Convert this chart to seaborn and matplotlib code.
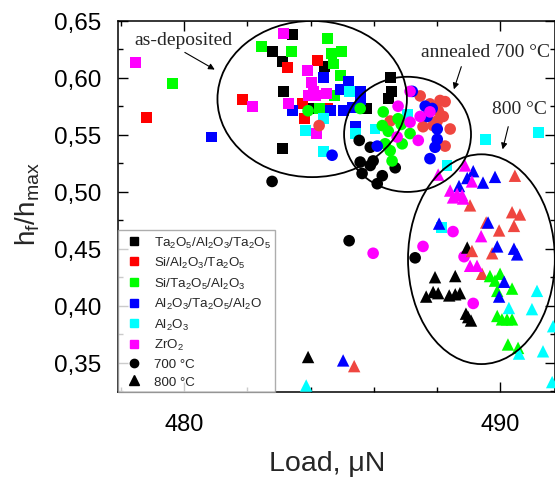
import numpy as np
import pandas as pd
import matplotlib.pyplot as plt
import seaborn as sns
from matplotlib.patches import Ellipse
from matplotlib.lines import Line2D

# materials (legend order)
materials = ['Ta$_2$O$_5$/Al$_2$O$_3$/Ta$_2$O$_5$', 'Si/Al$_2$O$_3$/Ta$_2$O$_5$',
             'Si/Ta$_2$O$_5$/Al$_2$O$_3$', 'Al$_2$O$_3$/Ta$_2$O$_5$/Al$_2$O',
             'Al$_2$O$_3$', 'ZrO$_2$']

# as-deposited (squares)
dep_tat_x = [483.42, 482.78, 483.10, 484.43, 483.13, 483.10, 486.52, 486.55, 486.46, 485.76, 484.08]
dep_tat_y = [0.638, 0.623, 0.614, 0.610, 0.588, 0.538, 0.600, 0.588, 0.582, 0.573, 0.573]
dep_sat_x = [478.80, 481.84, 483.26, 484.21, 483.73, 483.80, 484.53]
dep_sat_y = [0.565, 0.581, 0.609, 0.615, 0.577, 0.564, 0.573]
dep_sta_x = [479.62, 482.44, 483.39, 484.53, 484.65, 484.97, 484.72, 484.94, 484.75, 484.27]
dep_sta_y = [0.595, 0.627, 0.623, 0.634, 0.621, 0.623, 0.612, 0.602, 0.584, 0.573]
dep_ata_x = [480.85, 483.42, 484.40, 485.19, 484.94, 485.03, 485.32, 485.57, 485.57, 484.62, 485.41]
dep_ata_y = [0.548, 0.571, 0.600, 0.597, 0.590, 0.571, 0.574, 0.588, 0.581, 0.571, 0.557]
dep_al_x = [484.40, 483.83, 484.40, 485.22, 485.41, 486.04, 487.06, 488.32, 489.53, 491.23, 488.16]
dep_al_y = [0.564, 0.554, 0.535, 0.588, 0.551, 0.555, 0.568, 0.523, 0.546, 0.552, 0.469]
dep_zr_x = [478.45, 482.15, 483.13, 483.89, 484.02, 483.92, 484.15, 484.49, 483.29, 484.18, 484.08]
dep_zr_y = [0.613, 0.575, 0.639, 0.606, 0.596, 0.584, 0.584, 0.586, 0.577, 0.551, 0.588]

# annealed 700 C (circles)
a700_tat_x = [482.78, 485.54, 485.89, 485.57, 485.89, 485.98, 485.63, 486.27, 486.68, 486.11, 485.22, 487.31]
a700_tat_y = [0.509, 0.545, 0.539, 0.526, 0.523, 0.527, 0.516, 0.514, 0.521, 0.507, 0.457, 0.442]
a700_sat_x = [484.27, 486.52, 487.47, 487.78, 488.10, 488.26, 488.04, 488.20, 488.01, 487.88, 487.56, 488.42, 488.26]
a700_sat_y = [0.558, 0.562, 0.584, 0.577, 0.580, 0.579, 0.571, 0.566, 0.562, 0.558, 0.557, 0.555, 0.540]
a700_sta_x = [483.92, 485.57, 486.30, 486.27, 486.46, 486.36, 486.87, 487.15, 486.90, 486.52, 486.58, 486.77]
a700_sta_y = [0.571, 0.573, 0.570, 0.558, 0.553, 0.542, 0.559, 0.551, 0.542, 0.536, 0.527, 0.564]
a700_ata_x = [484.68, 486.11, 487.22, 487.63, 487.85, 487.69, 488.01, 488.01, 487.94, 487.78]
a700_ata_y = [0.532, 0.540, 0.588, 0.575, 0.573, 0.566, 0.555, 0.546, 0.539, 0.529]
a700_zr_x = [487.15, 486.77, 487.47, 487.15, 487.78, 487.41, 486.74, 485.98, 487.56, 488.51, 488.86, 489.15]
a700_zr_y = [0.588, 0.575, 0.566, 0.561, 0.570, 0.545, 0.548, 0.446, 0.452, 0.465, 0.443, 0.402]

# annealed 800 C (triangles)
a800_tat_x = [487.94, 488.58, 487.66, 487.88, 488.04, 488.39, 488.58, 488.73, 488.92, 488.99, 489.08, 488.96, 483.92]
a800_tat_y = [0.425, 0.426, 0.408, 0.412, 0.411, 0.409, 0.410, 0.411, 0.393, 0.390, 0.387, 0.451, 0.355]
a800_sat_x = [490.47, 489.05, 490.38, 490.63, 490.44, 489.97, 489.11, 489.75, 489.43, 485.38, 489.56]
a800_sat_y = [0.514, 0.488, 0.482, 0.480, 0.470, 0.466, 0.448, 0.446, 0.428, 0.347, 0.473]
a800_sta_x = [489.68, 490.00, 489.84, 489.91, 490.38, 489.91, 490.06, 490.22, 490.38, 490.25, 490.57]
a800_sta_y = [0.426, 0.428, 0.422, 0.413, 0.415, 0.391, 0.388, 0.388, 0.388, 0.366, 0.363]
a800_ata_x = [489.15, 488.96, 488.70, 489.46, 489.84, 488.07, 489.62, 489.91, 490.44, 490.54, 490.13, 489.97, 485.03]
a800_ata_y = [0.518, 0.512, 0.505, 0.508, 0.513, 0.472, 0.473, 0.452, 0.450, 0.445, 0.421, 0.408, 0.352]
a800_al_x = [491.17, 491.01, 490.28, 491.68, 491.36, 490.60, 483.86, 491.65]
a800_al_y = [0.413, 0.397, 0.398, 0.382, 0.360, 0.358, 0.330, 0.333]
a800_zr_x = [488.89, 488.04, 489.11, 488.42, 488.64, 488.51, 488.80, 488.83, 489.40, 489.05, 489.27]
a800_zr_y = [0.523, 0.515, 0.509, 0.501, 0.498, 0.495, 0.497, 0.494, 0.461, 0.435, 0.435]

y_ticks = [0.35, 0.40, 0.45, 0.50, 0.55, 0.60, 0.65]
x_ticks = [480, 490]

sns.set_style("ticks")
plt.rcParams['font.family'] = ['Liberation Sans', 'DejaVu Sans']
plt.rcParams['mathtext.default'] = 'regular'

# build one long table
rows = []
groups = [
    ('dep', 0, dep_tat_x, dep_tat_y), ('dep', 1, dep_sat_x, dep_sat_y), ('dep', 2, dep_sta_x, dep_sta_y),
    ('dep', 3, dep_ata_x, dep_ata_y), ('dep', 4, dep_al_x, dep_al_y), ('dep', 5, dep_zr_x, dep_zr_y),
    ('700', 0, a700_tat_x, a700_tat_y), ('700', 1, a700_sat_x, a700_sat_y), ('700', 2, a700_sta_x, a700_sta_y),
    ('700', 3, a700_ata_x, a700_ata_y), ('700', 5, a700_zr_x, a700_zr_y),
    ('800', 0, a800_tat_x, a800_tat_y), ('800', 1, a800_sat_x, a800_sat_y), ('800', 2, a800_sta_x, a800_sta_y),
    ('800', 3, a800_ata_x, a800_ata_y), ('800', 4, a800_al_x, a800_al_y), ('800', 5, a800_zr_x, a800_zr_y),
]
for state, m, xs, ys in groups:
    for x, y in zip(xs, ys):
        rows.append({'load': x, 'ratio': y, 'material': materials[m], 'state': state})
df = pd.DataFrame(rows)

sq_colors = ['#000000', '#ff0000', '#00ff00', '#0000ff', '#00ffff', '#ff00ff']
ann_colors = ['#000000', '#ef4640', '#00ff00', '#0000ff', '#00ffff', '#ff00ff']

fig = plt.figure(figsize=(5.55, 4.81), dpi=100)
ax = fig.add_axes([118 / 555, 1 - 393 / 481, 437 / 555, 371.3 / 481])

for state, marker, cols, size in [('dep', 's', sq_colors, 62), ('700', 'o', ann_colors, 70), ('800', '^', ann_colors, 80)]:
    sns.scatterplot(data=df[df['state'] == state], x='load', y='ratio', hue='material',
                    palette=dict(zip(materials, cols)), marker=marker, s=size,
                    linewidth=0, legend=False, ax=ax, zorder=3)

# ellipses + labels
ell_kw = dict(fill=False, edgecolor='black', linewidth=1.3, zorder=4)
ax.add_patch(Ellipse((484.05, 0.5813), 6.0, 0.137, **ell_kw))
ax.add_patch(Ellipse((487.07, 0.5503), 4.02, 0.101, **ell_kw))
ax.add_patch(Ellipse((489.41, 0.4408), 4.65, 0.184, **ell_kw))

txt_kw = dict(family=['Liberation Serif'], fontsize=14, ha='center', va='center')
arr = dict(arrowstyle='-|>', color='black', lw=0.8, mutation_scale=9)
ax.text(479.97, 0.6339, 'as-deposited', **txt_kw)
ax.annotate('', xy=(481.04, 0.6059), xytext=(479.94, 0.6234), arrowprops=arr)
ax.text(489.53, 0.6234, 'annealed 700 °C', **txt_kw)
ax.annotate('', xy=(488.51, 0.5875), xytext=(488.80, 0.6120), arrowprops=arr)
ax.text(490.6, 0.5734, '800 °C', **txt_kw)
ax.annotate('', xy=(490.06, 0.5348), xytext=(490.28, 0.5594), arrowprops=arr)

ax.set_xlim(477.9, 491.74)
ax.set_ylim(0.3243, 0.65)
ax.set_xticks(x_ticks)
ax.set_xticks(np.arange(478, 492, 2), minor=True)
ax.set_yticks(y_ticks)
ax.set_yticks(np.arange(0.325, 0.651, 0.025), minor=True)
ax.set_yticklabels([f'{v:.2f}'.replace('.', ',') for v in y_ticks])
ax.tick_params(which='both', direction='in', top=True, right=True, width=1, colors='black')
ax.tick_params(which='major', length=7)
ax.tick_params(which='minor', length=3.5)
ax.tick_params(axis='x', labelsize=17, pad=15)
ax.tick_params(axis='y', labelsize=17.5, pad=12)
for sp in ax.spines.values():
    sp.set_linewidth(1.1)
    sp.set_color('black')

ax.set_xlabel('Load, μN', fontsize=20.5)
ax.set_ylabel('h$_f$/h$_{max}$', fontsize=20)
ax.xaxis.set_label_coords(0.478, -0.155)
ax.yaxis.set_label_coords(-0.175, 0.51)

# legend
handles = [Line2D([], [], marker='s', color=c, linestyle='none', markersize=5.5) for c in sq_colors]
handles += [Line2D([], [], marker='o', color='black', linestyle='none', markersize=6),
            Line2D([], [], marker='^', color='black', linestyle='none', markersize=6.5)]
labels = materials + ['700 °C', '800 °C']
leg = ax.legend(handles, labels, loc='lower left', bbox_to_anchor=(0, 0), borderaxespad=0,
                fontsize=9.6, frameon=True, fancybox=False, edgecolor='#999999',
                handlelength=1.8, handletextpad=0.6, labelspacing=0.41, borderpad=0.3)
leg.get_frame().set_linewidth(1.0)
leg.set_zorder(6)

fig.savefig('out.png', dpi=100)
